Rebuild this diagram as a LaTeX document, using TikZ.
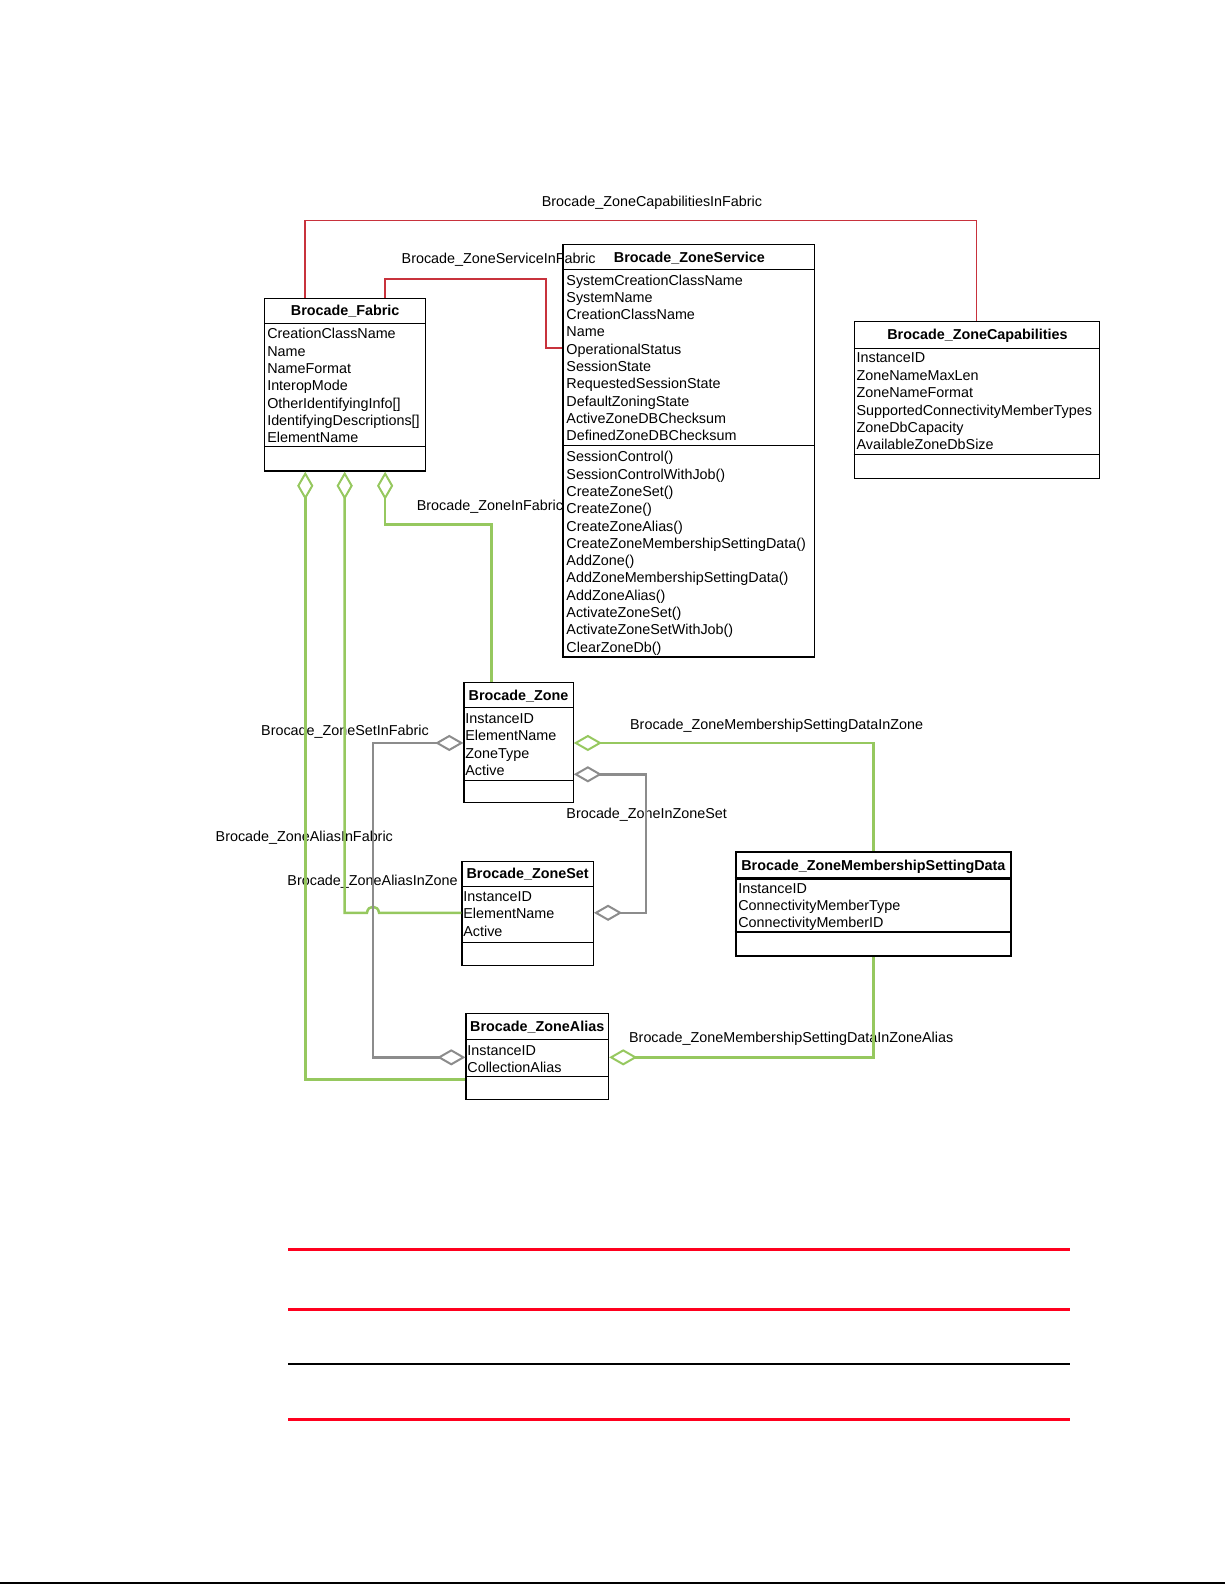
\documentclass[tikz,border=0pt]{standalone}
\usepackage{fontspec}
\setmainfont{Liberation Sans}
\usetikzlibrary{arrows.meta,fit}
\definecolor{cred}{RGB}{200,50,60}
\definecolor{cgreen}{RGB}{150,200,95}
\definecolor{cgray}{RGB}{140,140,140}
\definecolor{bred}{RGB}{255,0,30}
\begin{document}
\begin{tikzpicture}[x=0.50542pt,y=-0.50542pt,
  box/.style={draw=black, line width=0.6pt, inner sep=0pt},
  boldbox/.style={draw=black, line width=1.2pt, inner sep=0pt},
  sepline/.style={draw=black, line width=0.6pt},
  txt/.style={anchor=west, inner sep=0pt, font=\fontsize{7.18pt}{8.6pt}\selectfont, text height=1.6ex, text depth=0.45ex},
  ttl/.style={inner sep=0pt, font=\fontsize{7.18pt}{8.6pt}\selectfont\bfseries, text height=1.6ex, text depth=0.45ex},
  redc/.style={draw=cred, line width=0.8pt},
  grn/.style={draw=cgreen, line width=1.25pt},
  gry/.style={draw=cgray, line width=1.25pt},
  dia/.tip={Diamond[open, length=14.1pt, width=8.1pt, line width=1pt]},
  rule/.style={draw=bred, line width=1.5pt},
]
% ---------- boxes ----------
\node[box, fit={(262,295)(421,466)}] (fab) {};
\draw[sepline] (fab.west |- 0,320) -- (fab.east |- 0,320);
\draw[sepline] (fab.west |- 0,442) -- (fab.east |- 0,442);
\node[ttl] (fab-t) at (341.5,306) {Brocade\_Fabric};
\foreach \t [count=\i] in {CreationClassName, Name, NameFormat, InteropMode, {OtherIdentifyingInfo[]}, {IdentifyingDescriptions[]}, ElementName}
  \node[txt] (fab-a\i) at (264,{329+17.2*(\i-1)}) {\t};

\node[box, fit={(557,242)(806,650)}] (svc) {};
\draw[sepline] (svc.west |- 0,267) -- (svc.east |- 0,267);
\draw[sepline] (svc.west |- 0,441) -- (svc.east |- 0,441);
\node[ttl] (svc-t) at (682,254) {Brocade\_ZoneService};
\foreach \t [count=\i] in {SystemCreationClassName, SystemName, CreationClassName, Name, OperationalStatus, SessionState, RequestedSessionState, DefaultZoningState, ActiveZoneDBChecksum, DefinedZoneDBChecksum}
  \node[txt] (svc-a\i) at (560,{276+17.1*(\i-1)}) {\t};
\foreach \t [count=\i] in {SessionControl(), SessionControlWithJob(), CreateZoneSet(), CreateZone(), CreateZoneAlias(), CreateZoneMembershipSettingData(), AddZone(), AddZoneMembershipSettingData(), AddZoneAlias(), ActivateZoneSet(), ActivateZoneSetWithJob(), ClearZoneDb()}
  \node[txt] (svc-m\i) at (560,{451+17.1*(\i-1)}) {\t};

\node[box, fit={(845,318)(1088,473)}] (cap) {};
\draw[sepline] (cap.west |- 0,345) -- (cap.east |- 0,345);
\draw[sepline] (cap.west |- 0,450) -- (cap.east |- 0,450);
\node[ttl] (cap-t) at (967,330) {Brocade\_ZoneCapabilities};
\foreach \t [count=\i] in {InstanceID, ZoneNameMaxLen, ZoneNameFormat, SupportedConnectivityMemberTypes, ZoneDbCapacity, AvailableZoneDbSize}
  \node[txt] (cap-a\i) at (847,{353+17.2*(\i-1)}) {\t};

\node[box, fit={(459,675)(567,794)}] (zone) {};
\draw[sepline] (zone.west |- 0,700) -- (zone.east |- 0,700);
\draw[sepline] (zone.west |- 0,772) -- (zone.east |- 0,772);
\node[ttl] (zone-t) at (513,687) {Brocade\_Zone};
\foreach \t [count=\i] in {InstanceID, ElementName, ZoneType, Active}
  \node[txt] (zone-a\i) at (460,{710+17*(\i-1)}) {\t};

\node[box, fit={(457,852)(587,955)}] (zs) {};
\draw[sepline] (zs.west |- 0,877) -- (zs.east |- 0,877);
\draw[sepline] (zs.west |- 0,932) -- (zs.east |- 0,932);
\node[ttl] (zs-t) at (522,863) {Brocade\_ZoneSet};
\foreach \t [count=\i] in {InstanceID, ElementName, Active}
  \node[txt] (zs-a\i) at (458,{886+17*(\i-1)}) {\t};

\node[boldbox, fit={(728,843)(1000,946)}] (zmsd) {};
\draw[boldbox] (zmsd.west |- 0,869) -- (zmsd.east |- 0,869);
\draw[boldbox] (zmsd.west |- 0,922) -- (zmsd.east |- 0,922);
\begin{scope}
  \clip (zmsd.north west) rectangle (zmsd.east |- 0,869);
  \node[ttl, anchor=west] (zmsd-t) at (733,855) {Brocade\_ZoneMembershipSettingData};
\end{scope}
\foreach \t [count=\i] in {InstanceID, ConnectivityMemberType, ConnectivityMemberID}
  \node[txt] (zmsd-a\i) at (730,{878+17*(\i-1)}) {\t};

\node[box, fit={(461,1003)(602,1088)}] (za) {};
\draw[sepline] (za.west |- 0,1028) -- (za.east |- 0,1028);
\draw[sepline] (za.west |- 0,1065) -- (za.east |- 0,1065);
\node[ttl] (za-t) at (531.5,1014) {Brocade\_ZoneAlias};
\foreach \t [count=\i] in {InstanceID, CollectionAlias}
  \node[txt] (za-a\i) at (462,{1038+16.5*(\i-1)}) {\t};

% ---------- connector labels ----------
\node[txt, anchor=center] (l-capfab) at (645,198) {Brocade\_ZoneCapabilitiesInFabric};
\node[txt] (l-svcfab) at (397,255) {Brocade\_ZoneServiceInFabric};
\node[txt] (l-zonefab) at (412,499) {Brocade\_ZoneInFabric};
\node[txt] (l-zsfab) at (258,722) {Brocade\_ZoneSetInFabric};
\node[txt] (l-msdzone) at (623,716) {Brocade\_ZoneMembershipSettingDataInZone};
\node[txt] (l-zonezs) at (560,804) {Brocade\_ZoneInZoneSet};
\node[txt] (l-zafab) at (213,826) {Brocade\_ZoneAliasInFabric};
\node[txt] (l-zazone) at (284,870) {Brocade\_ZoneAliasInZone};
\node[txt] (l-msdza) at (622,1025) {Brocade\_ZoneMembershipSettingDataInZoneAlias};

% ---------- connectors ----------
\draw[redc] (302,0 |- fab.north) -- (302,218) -- (966,218) -- (966,0 |- cap.north);
\draw[redc] (381,0 |- fab.north) -- (381,276) -- (540,276) -- (540,344) -- (svc.west |- 0,344);

\draw[grn, {dia}-] (381,0 |- fab.south) -- (381,519) -- (486,519) -- (486,0 |- zone.north);
\draw[grn, {dia}-] (341,0 |- fab.south) -- (341,903) -- (363,903)
   .. controls (364,895) and (374,895) .. (375,903) -- (zs.west |- 0,903);
\draw[grn, {dia}-] (302,0 |- fab.south) -- (302,1068) -- (za.west |- 0,1068);

\draw[gry, {dia}-{dia}] (zone.west |- 0,735) -- (369,735) -- (369,1046) -- (za.west |- 0,1046);
\draw[gry, {dia}-{dia}] (zone.east |- 0,766) -- (639,766) -- (639,903) -- (zs.east |- 0,903);

\draw[grn, {dia}-] (zone.east |- 0,735) -- (864,735) -- (864,0 |- zmsd.north);
\draw[grn, {dia}-] (za.east |- 0,1046) -- (864,1046) -- (864,0 |- zmsd.south);

% ---------- page rules ----------
\draw[rule] (285,1236) -- (1059,1236);
\draw[rule] (285,1295) -- (1059,1295);
\draw[draw=black, line width=0.9pt] (285,1349) -- (1059,1349);
\draw[rule] (285,1404) -- (1059,1404);
\draw[draw=black, line width=1.1pt] (0,1565.8) -- (1212,1565.8);

\pgfresetboundingbox
\useasboundingbox (0,0) rectangle (1211.9,1568);
\end{tikzpicture}
\end{document}
